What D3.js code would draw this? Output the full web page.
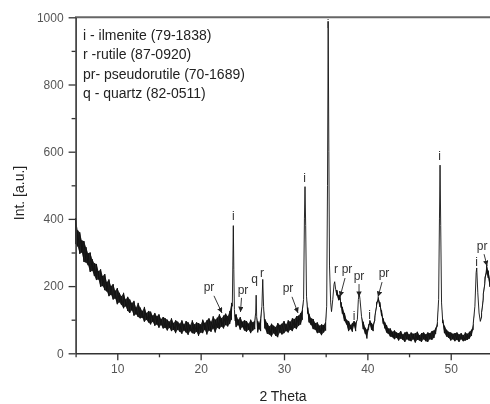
<!DOCTYPE html>
<html>
<head>
<meta charset="utf-8">
<script src="https://cdn.jsdelivr.net/npm/d3@7"></script>
<style>
  body { margin: 0; background: #fff; }
  svg { will-change: transform; }
  text { font-family: "Liberation Sans", Arial, sans-serif; }
</style>
</head>
<body>
<div id="chart"></div>
<script>
// axis ticks
const xTicks = [10, 20, 30, 40, 50];
const xMinor = [5, 15, 25, 35, 45];
const yTicks = [0, 200, 400, 600, 800, 1000];
const yMinor = [100, 300, 500, 700, 900];

const legendLines = [
    "i - ilmenite (79-1838)",
    "r -rutile (87-0920)",
    "pr- pseudorutile (70-1689)",
    "q - quartz (82-0511)"
];

// scan: [2theta, low, high] of the noise band; low == high on peaks
const scan = [
    [5.00, 325, 402], [5.25, 318, 366], [5.50, 296, 360], [5.75, 300, 336],
    [6.00, 272, 334], [6.25, 270, 316], [6.50, 262, 298], [6.75, 242, 300],
    [7.00, 246, 280], [7.25, 230, 268], [7.50, 218, 266], [7.75, 220, 244],
    [8.00, 198, 250], [8.25, 200, 230], [8.50, 188, 236], [8.75, 184, 212],
    [9.00, 170, 220], [9.25, 174, 200], [9.50, 160, 206], [9.75, 163, 186],
    [10.00, 146, 194], [10.25, 152, 180], [10.50, 144, 170], [10.75, 134, 180],
    [11.00, 140, 160], [11.25, 126, 168], [11.50, 120, 160], [11.75, 128, 150],
    [12.00, 112, 156], [12.25, 116, 136], [12.50, 108, 150], [12.75, 104, 136],
    [13.00, 106, 126], [13.25, 94, 138], [13.50, 100, 120], [13.75, 92, 126],
    [14.00, 86, 124], [14.25, 94, 112], [14.50, 82, 120], [14.75, 86, 110],
    [15.00, 76, 116], [15.25, 84, 102], [15.50, 74, 108], [15.75, 76, 104],
    [16.00, 68, 100], [16.25, 76, 94], [16.50, 66, 104], [16.75, 70, 90],
    [17.00, 60, 98], [17.25, 70, 94], [17.50, 64, 88], [17.75, 58, 98],
    [18.00, 68, 86], [18.25, 62, 96], [18.50, 55, 92], [18.75, 66, 84],
    [19.00, 60, 98], [19.25, 58, 86], [19.50, 64, 92], [19.75, 52, 90],
    [20.00, 62, 86], [20.25, 60, 100], [20.50, 70, 90], [20.75, 56, 98],
    [21.00, 68, 104], [21.25, 64, 94], [21.50, 74, 110], [21.75, 62, 100],
    [22.00, 76, 106], [22.25, 72, 116], [22.50, 80, 104], [22.75, 74, 112],
    [23.00, 84, 118], [23.25, 80, 110], [23.50, 88, 126], [23.70, 100, 150],
    [23.80, 140, 140], [23.86, 260, 260], [23.92, 380, 380], [23.98, 250, 250],
    [24.05, 130, 130], [24.15, 96, 114], [24.25, 78, 116], [24.50, 84, 100],
    [24.75, 70, 108], [25.00, 78, 94], [25.25, 68, 98], [25.50, 64, 96],
    [25.75, 70, 88], [26.00, 60, 100], [26.25, 68, 92], [26.50, 72, 98],
    [26.60, 120, 120], [26.66, 173, 173], [26.72, 110, 110], [26.85, 62, 96],
    [27.00, 72, 90], [27.20, 66, 104], [27.35, 140, 140], [27.45, 220, 220],
    [27.55, 140, 140], [27.70, 74, 102], [28.00, 58, 90], [28.25, 56, 80],
    [28.50, 50, 88], [28.75, 60, 82], [29.00, 52, 78], [29.25, 48, 90],
    [29.50, 62, 84], [29.75, 56, 88], [30.00, 60, 96], [30.25, 66, 86],
    [30.50, 62, 98], [30.75, 70, 94], [31.00, 66, 104], [31.25, 76, 102],
    [31.50, 72, 110], [31.75, 82, 112], [32.00, 86, 120], [32.20, 100, 130],
    [32.35, 160, 160], [32.45, 400, 400], [32.52, 496, 496], [32.60, 380, 380],
    [32.70, 170, 170], [32.85, 118, 136], [33.00, 92, 118], [33.25, 84, 104],
    [33.50, 72, 102], [33.75, 70, 90], [34.00, 60, 92], [34.25, 62, 82],
    [34.50, 54, 86], [34.75, 62, 84], [35.00, 68, 94], [35.12, 140, 140],
    [35.22, 500, 500], [35.30, 987, 987], [35.38, 600, 600], [35.46, 260, 260],
    [35.60, 150, 150], [35.70, 124, 124], [35.85, 160, 160], [36.00, 205, 205],
    [36.08, 213, 213], [36.20, 190, 190], [36.35, 172, 188], [36.55, 158, 172],
    [36.70, 160, 174], [36.85, 136, 152], [37.00, 118, 138], [37.25, 96, 120],
    [37.50, 86, 100], [37.75, 66, 96], [38.00, 72, 84], [38.20, 64, 90],
    [38.40, 82, 96], [38.60, 66, 90], [38.80, 100, 100], [38.92, 160, 160],
    [39.02, 179, 179], [39.12, 160, 160], [39.30, 110, 110], [39.50, 72, 94],
    [39.75, 58, 76], [39.95, 44, 70], [40.15, 70, 86], [40.30, 86, 98],
    [40.50, 70, 90], [40.70, 66, 84], [40.90, 98, 112], [41.10, 138, 152],
    [41.30, 156, 167], [41.50, 138, 152], [41.70, 112, 128], [41.90, 88, 104],
    [42.10, 74, 92], [42.30, 62, 84], [42.50, 58, 74], [42.75, 50, 74],
    [43.00, 48, 64], [43.25, 42, 68], [43.50, 46, 62], [43.75, 38, 60],
    [44.00, 44, 66], [44.25, 40, 56], [44.50, 34, 62], [44.75, 42, 64],
    [45.00, 38, 56], [45.25, 36, 62], [45.50, 42, 58], [45.75, 32, 60],
    [46.00, 40, 64], [46.25, 38, 54], [46.50, 34, 60], [46.75, 42, 62],
    [47.00, 36, 56], [47.25, 34, 62], [47.50, 42, 60], [47.75, 40, 66],
    [48.00, 46, 68], [48.20, 58, 76], [48.40, 80, 95], [48.55, 160, 160],
    [48.65, 400, 400], [48.72, 560, 560], [48.80, 380, 380], [48.90, 150, 150],
    [49.05, 90, 100], [49.25, 60, 82], [49.50, 50, 70], [49.75, 46, 64],
    [50.00, 38, 62], [50.25, 42, 58], [50.50, 36, 60], [50.75, 40, 62],
    [51.00, 34, 56], [51.25, 42, 60], [51.50, 36, 54], [51.75, 38, 62],
    [52.00, 40, 58], [52.25, 44, 64], [52.50, 52, 70], [52.70, 70, 88],
    [52.90, 140, 140], [53.05, 240, 240], [53.12, 254, 254], [53.25, 180, 180],
    [53.40, 120, 120], [53.55, 95, 95], [53.70, 108, 122], [53.90, 158, 176],
    [54.10, 208, 226], [54.30, 240, 263], [54.50, 224, 246], [54.70, 198, 222],
    [54.90, 172, 196], [55.00, 160, 180]
];

// phase labels: [text, 2theta, intensity at baseline]
const peakLabels = [
    ["i", 23.92, 397], ["pr", 21.0, 185], ["pr", 25.08, 176], ["q", 26.47, 209],
    ["r", 27.36, 227], ["pr", 30.48, 182], ["i", 32.46, 510], ["i", 35.30, 967],
    ["r", 36.24, 239], ["pr", 37.56, 239], ["pr", 39.0, 218], ["i", 38.4, 99],
    ["i", 40.26, 102], ["pr", 42.0, 227], ["i", 48.66, 575], ["i", 53.1, 260],
    ["pr", 53.76, 307]
];

// arrows: [from 2theta, from int, to 2theta, to int]
const labelArrows = [
    [21.6, 171, 22.56, 120], [24.9, 165, 24.78, 123], [30.96, 168, 31.68, 120],
    [37.32, 224, 36.72, 168], [39.0, 206, 39.0, 168], [41.76, 212, 41.28, 168],
    [54.0, 295, 54.36, 260]
];

const width = 490, height = 404;

const svg = d3.select("#chart").append("svg")
    .attr("width", width)
    .attr("height", height);

const x = d3.scaleLinear().domain([5, 55]).range([75.6, 492.4]);
const y = d3.scaleLinear().domain([0, 1000]).range([353.3, 17.3]);

const defs = svg.append("defs");
defs.append("clipPath").attr("id", "plot")
    .append("rect").attr("x", 75).attr("y", 0).attr("width", 420).attr("height", 354);

defs.append("marker")
    .attr("id", "head")
    .attr("viewBox", "0 0 8 8")
    .attr("refX", 8).attr("refY", 4)
    .attr("markerWidth", 6).attr("markerHeight", 6)
    .attr("orient", "auto")
    .append("path")
    .attr("d", "M0,0L8,4L0,8Z")
    .attr("fill", "#222");

const trace = svg.append("g").attr("clip-path", "url(#plot)");

// noise band
trace.append("path")
    .datum(scan)
    .attr("fill", "#2a2a2a")
    .attr("d", d3.area().x(d => x(d[0])).y0(d => y(d[1])).y1(d => y(d[2])));

// trace line: each bin drawn low -> high
let pts = [];
scan.forEach(d => {
    pts.push([d[0], d[1]]);
    if (d[2] !== d[1]) pts.push([d[0], d[2]]);
});

trace.append("path")
    .datum(pts)
    .attr("fill", "none")
    .attr("stroke", "#111")
    .attr("stroke-width", 0.9)
    .attr("d", d3.line().x(d => x(d[0])).y(d => y(d[1])));

// top frame
svg.append("line")
    .attr("x1", 75).attr("x2", 490)
    .attr("y1", y(1000)).attr("y2", y(1000))
    .attr("stroke", "#666").attr("stroke-width", 2);

// axes
svg.append("g")
    .attr("transform", `translate(0,${y(0)})`)
    .call(d3.axisBottom(x).tickValues(xTicks).tickSize(7).tickPadding(4).tickSizeOuter(0));

svg.append("g")
    .attr("transform", `translate(0,${y(0)})`)
    .call(d3.axisBottom(x).tickValues(xMinor).tickSize(4).tickFormat("").tickSizeOuter(0))
    .select(".domain").remove();

svg.append("g")
    .attr("transform", `translate(${x(5)},0)`)
    .call(d3.axisLeft(y).tickValues(yTicks).tickSize(7).tickPadding(5).tickSizeOuter(0)
        .tickFormat(d3.format("d")));

svg.append("g")
    .attr("transform", `translate(${x(5)},0)`)
    .call(d3.axisLeft(y).tickValues(yMinor).tickSize(4).tickFormat("").tickSizeOuter(0))
    .select(".domain").remove();

svg.selectAll(".domain").attr("stroke", "#333").attr("stroke-width", 1.6);
svg.selectAll(".tick line").attr("stroke", "#333").attr("stroke-width", 1.3);
svg.selectAll(".tick text")
    .attr("font-size", 12)
    .attr("fill", "#555")
    .attr("font-family", "Liberation Sans, Arial, sans-serif");

// axis titles
svg.append("text")
    .attr("transform", "translate(24,193) rotate(-90)")
    .attr("text-anchor", "middle")
    .attr("font-size", 14)
    .attr("fill", "#222")
    .text("Int. [a.u.]");

svg.append("text")
    .attr("x", 283).attr("y", 401)
    .attr("text-anchor", "middle")
    .attr("font-size", 14)
    .attr("fill", "#222")
    .text("2 Theta");

// legend text
svg.append("g").selectAll("text")
    .data(legendLines)
    .enter().append("text")
    .attr("x", 83)
    .attr("y", (d, i) => 39.5 + i * 19.5)
    .attr("font-size", 14)
    .attr("fill", "#222")
    .text(d => d);

// peak labels and arrows
svg.append("g").selectAll("text")
    .data(peakLabels)
    .enter().append("text")
    .attr("x", d => x(d[1]))
    .attr("y", d => y(d[2]))
    .attr("text-anchor", "middle")
    .attr("font-size", 12)
    .attr("fill", "#333")
    .text(d => d[0]);

svg.append("g").selectAll("line")
    .data(labelArrows)
    .enter().append("line")
    .attr("x1", d => x(d[0])).attr("y1", d => y(d[1]))
    .attr("x2", d => x(d[2])).attr("y2", d => y(d[3]))
    .attr("stroke", "#222")
    .attr("stroke-width", 0.9)
    .attr("marker-end", "url(#head)");
</script>
</body>
</html>
